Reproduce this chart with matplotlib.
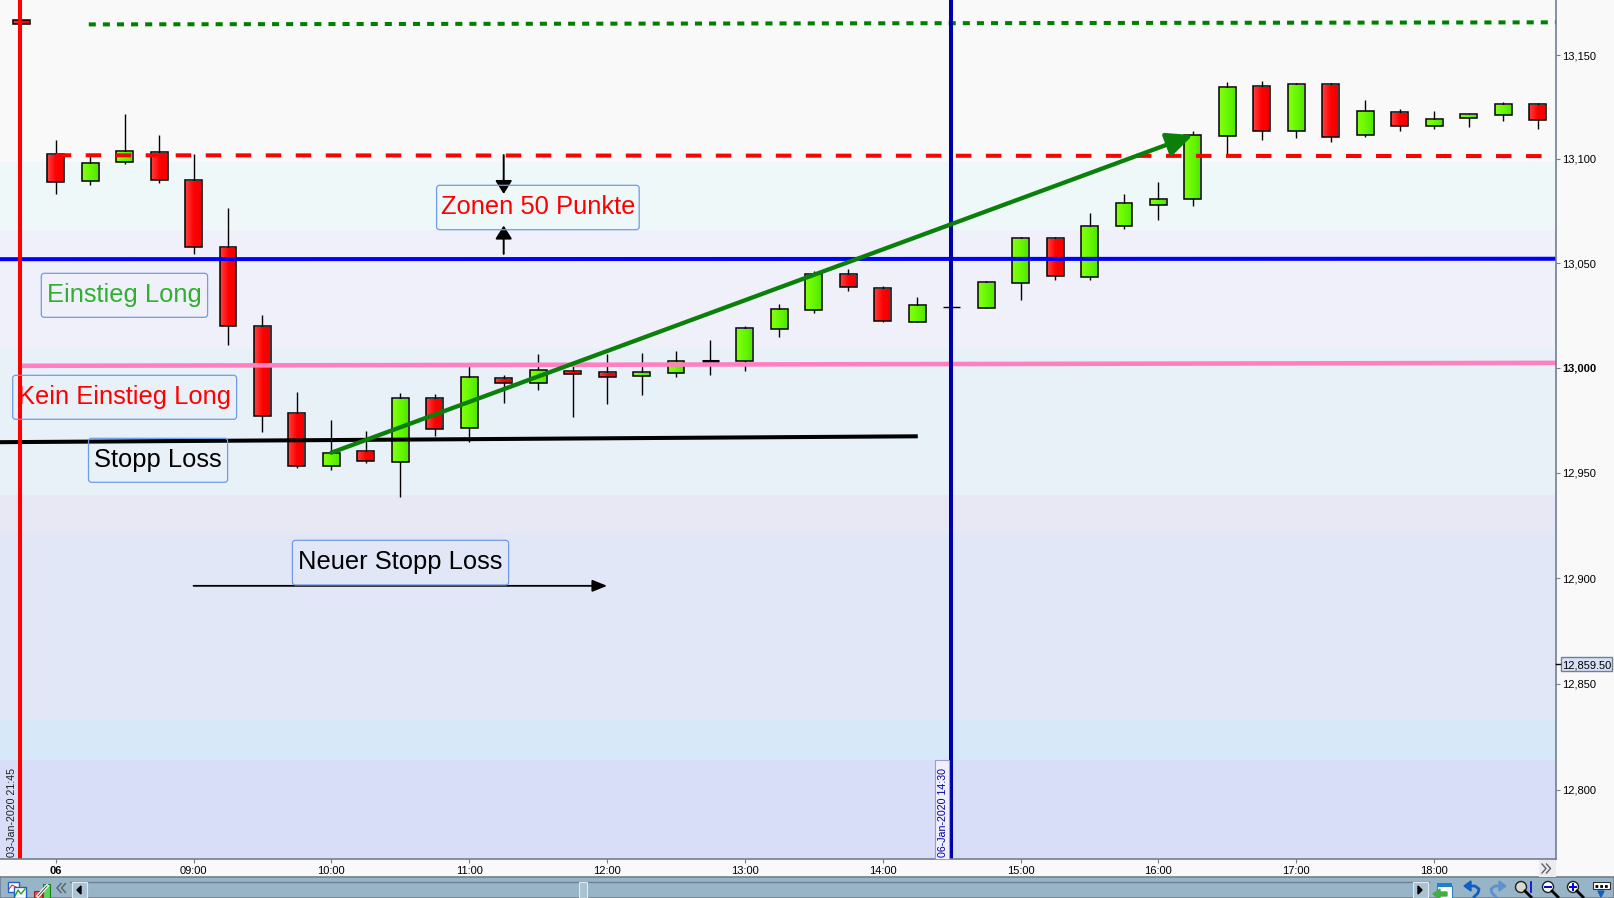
"""DAX 15-Minuten-Kerzen, 06-Jan-2020, mit Einstiegszonen (log. Kursachse)."""
import matplotlib
matplotlib.use("Agg")
import matplotlib.pyplot as plt
import numpy as np
from matplotlib.colors import LinearSegmentedColormap
from matplotlib.patches import FancyArrowPatch, FancyBboxPatch, Rectangle, Circle
from matplotlib.ticker import NullLocator

plt.rcParams["font.family"] = ["Liberation Sans", "DejaVu Sans"]

# --- Kerzen ---
times = ["07:45", "08:00", "08:15", "08:30", "08:45", "09:00", "09:15", "09:30", "09:45",
         "10:00", "10:15", "10:30", "10:45", "11:00", "11:15", "11:30", "11:45",
         "12:00", "12:15", "12:30", "12:45", "13:00", "13:15", "13:30", "13:45",
         "14:00", "14:15", "14:30", "14:45", "15:00", "15:15", "15:30", "15:45",
         "16:00", "16:15", "16:30", "16:45", "17:00", "17:15", "17:30", "17:45",
         "18:00", "18:15", "18:30", "18:45"]
opens = [13166.9, 13102.2, 13089.6, 13098.7, 13103.2, 13089.8, 13057.6, 13019.7, 12978.2,
         12953.4, 12960.2, 12955.2, 12985.4, 12971.4, 12995.1, 12992.5, 12998.2,
         12997.8, 12996.2, 12997.6, 13003.3, 13003.4, 13018.6, 13027.7, 13044.8,
         13038, 13021.9, 13028.9, 13028.7, 13040.7, 13062, 13043.5, 13068,
         13078.1, 13080.6, 13111.2, 13135, 13113.4, 13135.9, 13111.4, 13122.5,
         13116, 13119.8, 13121.3, 13126.3]
closes = [13164.9, 13089.1, 13098, 13103.7, 13090.1, 13057.9, 13020, 12977.1, 12953.4,
          12959.2, 12955.7, 12985.4, 12971, 12995.5, 12992.8, 12998.9, 12997.2,
          12995.7, 12997.8, 13003.1, 13003.3, 13018.8, 13027.9, 13044.8, 13038.8,
          13022.4, 13029.8, 13028.9, 13040.9, 13062, 13044, 13067.8, 13078.7,
          13080.6, 13111.4, 13134.5, 13113.4, 13135.9, 13110.7, 13123, 13116,
          13119.1, 13121.6, 13126.3, 13118.9]
highs = [13166.9, 13109.1, 13102, 13121.7, 13111.5, 13102.4, 13076.4, 13025.2, 12988.2,
         12975.1, 12969.9, 12987.8, 12987.5, 13002.2, 12996.5, 13006.6, 13002.3,
         13006.6, 13007.1, 13008, 13013.2, 13019.7, 13030.4, 13046.2, 13047.2,
         13039.1, 13033.8, 13028.9, 13041.5, 13062.6, 13062.6, 13074, 13083.2,
         13088.9, 13113.4, 13137, 13137.5, 13136.4, 13136.4, 13128.3, 13123.9,
         13123, 13121.6, 13127.4, 13126.9]
lows = [13164.9, 13083.3, 13087.5, 13097.6, 13088.6, 13054.4, 13011, 12969.5, 12952.4,
        12951.3, 12954.8, 12938.6, 12967.6, 12964.8, 12983.2, 12989.2, 12976.7,
        12982.8, 12987.2, 12995.7, 12996.5, 12998.3, 13014.7, 13026.2, 13036.7,
        13021.8, 13021.9, 13028.9, 13028.7, 13032.4, 13042, 13042, 13066.4,
        13070.7, 13077.6, 13102, 13109.1, 13110.1, 13108.3, 13110.7, 13113.6,
        13114.5, 13115.6, 13118.2, 13114.5]

# --- Hintergrundzonen (von oben nach unten) ---
band_edges = [13180, 13098.4, 13065.7, 13009.3, 12939.2, 12921.3, 12832.7, 12813.9, 12760]
band_colors = ["#f9f9f9", "#eff8f8", "#f0f0fa", "#e8f0f8", "#e8e8f5", "#e1e7f6", "#d7e8f8", "#d8def8"]

yticks = [13150, 13100, 13050, 13000, 12950, 12900, 12850, 12800]
xtick_hours = [8, 9, 10, 11, 12, 13, 14, 15, 16, 17, 18]
xtick_labels = ["06", "09:00", "10:00", "11:00", "12:00", "13:00", "14:00", "15:00", "16:00", "17:00", "18:00"]

# Linien: (Zeit in Stunden, Kurs)
green_t, green_p = [8.24, 18.884], [13164.9, 13165.9]
red_t, red_p = [8.0, 18.884], [13101.8, 13101.4]
blue_t, blue_p = [7.596, 18.884], [13051.9, 13052.1]
pink_t, pink_p = [7.75, 18.884], [13000.9, 13002.3]
black_t, black_p = [7.596, 14.254], [12964.5, 12967.3]
trend_t, trend_p = [10.0, 16.25], [12959.5, 13111.5]
stop_t, stop_p = [9.0, 12.0], [12896.3, 12896.3]
zone_t = 11.25
zone_down = [13101.9, 13083.2]
zone_up = [13054.4, 13068]
left_vline, session_vline = 7.743, 14.495
last_price = 12859.5

GREY = "#708090"
BG = "#f9f9f9"
XLIM = (7.596, 18.884)
YLIM = (12767.6, 13176.7)


def hours(s):
    h, m = s.split(":")
    return int(h) + int(m) / 60


fig = plt.figure(figsize=(16.14, 8.98), dpi=100, facecolor=BG)
ax = fig.add_axes([0, 39 / 898, 1556 / 1614, 859 / 898], facecolor=BG)
ax.set_yscale("log")
ax.set_xlim(*XLIM)
ax.set_ylim(*YLIM)

for i, c in enumerate(band_colors):
    ax.axhspan(band_edges[i + 1], band_edges[i], color=c, lw=0, zorder=0)

# --- Kerzen zeichnen ---
reds = LinearSegmentedColormap.from_list("r", ["#ff3c3c", "#ff0000", "#ee0000"])
greens = LinearSegmentedColormap.from_list("g", ["#84ff10", "#66f800", "#50e400"])
grad = np.linspace(0, 1, 32).reshape(1, -1)
w = 0.0615
for t, o, c, h, l in zip(times, opens, closes, highs, lows):
    x = hours(t)
    ax.plot([x, x], [l, h], color="black", lw=1.0, zorder=2, solid_capstyle="butt")
    top, bot = max(o, c), min(o, c)
    if top == bot:
        ax.plot([x - w, x + w], [top, top], color="black", lw=1.0 if t != "12:45" else 2.2,
                zorder=3, solid_capstyle="butt")
        continue
    ax.imshow(grad, cmap=greens if c > o else reds, aspect="auto",
              extent=[x - w, x + w, bot, top], zorder=3, interpolation="bilinear")
    ax.add_patch(Rectangle((x - w, bot), 2 * w, top - bot, fill=False, ec="black", lw=1.1, zorder=3.1))
ax.set_xlim(*XLIM)
ax.set_ylim(*YLIM)

# --- Linien ---
ax.plot(green_t, green_p, color="#008000", lw=2.9, ls=(0, (1.75, 1.75)), zorder=4, dash_capstyle="butt")
ax.plot(red_t, red_p, color="#ff0000", lw=2.9, ls=(0, (3.85, 3.6)), zorder=4, dash_capstyle="butt")
ax.plot(blue_t, blue_p, color="#0000ff", lw=2.9, zorder=4, solid_capstyle="butt")
ax.plot(pink_t, pink_p, color="#ff80c0", lw=3.3, zorder=4, solid_capstyle="butt")
ax.plot(black_t, black_p, color="black", lw=2.9, zorder=4, solid_capstyle="butt")
ax.axvline(left_vline, color="#ff0000", lw=2.9, zorder=5)
ax.axvline(session_vline, color="#0000aa", lw=2.9, zorder=5)

ax.add_patch(FancyArrowPatch((trend_t[0], trend_p[0]), (trend_t[1], trend_p[1]),
                             arrowstyle="-|>,head_length=1.2,head_width=0.55", mutation_scale=13,
                             color="#0a800a", lw=3.1, shrinkA=0, shrinkB=0, zorder=6))
ax.add_patch(FancyArrowPatch((stop_t[0], stop_p[0]), (stop_t[1], stop_p[1]),
                             arrowstyle="-|>,head_length=0.74,head_width=0.3", mutation_scale=12,
                             color="black", lw=1.3, shrinkA=0, shrinkB=0, zorder=6))
for pair in (zone_down, zone_up):
    ax.add_patch(FancyArrowPatch((zone_t, pair[0]), (zone_t, pair[1]),
                                 arrowstyle="-|>,head_length=0.62,head_width=0.39", mutation_scale=13,
                                 color="black", lw=1.4, shrinkA=0, shrinkB=0, zorder=8))

# --- Achsen ---
for s in ("top", "left"):
    ax.spines[s].set_visible(False)
for s in ("right", "bottom"):
    ax.spines[s].set_color(GREY)
    ax.spines[s].set_linewidth(1.2)
    ax.spines[s].set_zorder(7)
ax.yaxis.tick_right()
ax.yaxis.set_minor_locator(NullLocator())
ax.set_yticks(yticks)
ax.set_yticklabels([f"{v:,}" for v in yticks], fontsize=8)
ax.get_yticklabels()[yticks.index(13000)].set_fontweight("bold")
ax.tick_params(axis="y", length=3.2, width=0.8, color=GREY, pad=1.5)
ax.set_xticks(xtick_hours)
ax.set_xticklabels(xtick_labels, fontsize=8)
ax.get_xticklabels()[0].set_fontweight("bold")
ax.tick_params(axis="x", length=3.2, width=0.8, color=GREY, pad=2)

# --- Ebene in Pixeln: Textboxen und Bedienleiste ---
ov = fig.add_axes([0, 0, 1, 1], facecolor="none")
ov.set_xlim(0, 1614)
ov.set_ylim(898, 0)
ov.axis("off")


def label(x0, y0, x1, y1, txt, col):
    ov.add_patch(FancyBboxPatch((x0 + 2, y0 + 2), x1 - x0 - 4, y1 - y0 - 4,
                                boxstyle="round,pad=2,rounding_size=3", fc="none",
                                ec="#6f9bea", lw=0.9, zorder=3))
    ov.text((x0 + x1) / 2, y0 + 28.5, txt, color=col, fontsize=18.4, ha="center",
            va="baseline", zorder=4)


def chevrons(cx, cy, d):
    for off in (-3, 1.5):
        ov.plot([cx + off - 2 * d, cx + off + 2 * d, cx + off - 2 * d], [cy - 4.5, cy, cy + 4.5],
                color="#606060", lw=1.0, zorder=3)


label(436.6, 185.3, 639.2, 229.7, "Zonen 50 Punkte", "#ff0000")
label(41.3, 273.3, 207.6, 317.3, "Einstieg Long", "#30b030")
label(12.7, 375.3, 236.6, 419.3, "Kein Einstieg Long", "#ff0000")
label(88.5, 438.3, 227.6, 482.3, "Stopp Loss", "black")
label(292.4, 540.3, 508.6, 585, "Neuer Stopp Loss", "black")

# Datumsmarken an den senkrechten Linien
ov.text(12.5, 857, "03-Jan-2020 21:45", rotation=90, fontsize=7.7, color="#202020",
        ha="center", va="bottom")
ov.add_patch(Rectangle((934.5, 760), 14.5, 99, fc="#f0f0fa", ec="#9a9ad8", lw=0.8, zorder=2))
ov.text(942.7, 857, "06-Jan-2020 14:30", rotation=90, fontsize=7.7, color="#0000aa",
        ha="center", va="bottom", zorder=3)

# aktueller Kurs
ov.add_patch(Rectangle((1561, 657), 51, 14, fc="#d8e0f8", ec=GREY, lw=1.0))
ov.text(1586.5, 664.3, f"{last_price:,.2f}", fontsize=8, ha="center", va="center_baseline")
ov.plot([1556, 1560], [664.3, 664.3], color="black", lw=1.0)

# Bedienleiste unten
ov.add_patch(Rectangle((0, 877), 1614, 21, fc="#97b5c7", ec=GREY, lw=1.2, zorder=1))
ov.plot([70, 1429], [882, 882], color=GREY, lw=1.0, zorder=2)
ov.add_patch(Rectangle((1539, 860), 17, 17, fc="#ecebf2", ec="none"))
chevrons(1547, 868.5, 1)
chevrons(62, 888, -1)
for bx, mark in ((71.5, "<"), (1412.5, ">")):
    ov.add_patch(Rectangle((bx, 882), 15, 16, fc="#a9c3d2", ec="#dfe9ef", lw=0.8, zorder=2))
    cx = bx + 7.5
    d = -1 if mark == "<" else 1
    ov.fill([cx - 2 * d, cx + 2 * d, cx - 2 * d], [886, 890, 894], color="black", zorder=3)
ov.add_patch(Rectangle((579, 882), 8, 16, fc="#a9c3d2", ec="#dfe9ef", lw=0.8, zorder=2))

# Symbole links
ov.add_patch(Rectangle((8, 882), 11, 10, fc="white", ec="#2060c0", lw=1.0, zorder=3))
ov.add_patch(Rectangle((14, 887), 12, 11, fc="white", ec="#2060c0", lw=1.0, zorder=3))
ov.plot([15, 18, 21, 25], [896, 890, 894, 889], color="#20a020", lw=1.0, zorder=4)
ov.plot([9, 12, 16], [889, 885, 887], color="#d03030", lw=0.8, zorder=4)
ov.add_patch(Rectangle((34, 891), 8, 7, fc="#e05050", ec="#a02020", lw=0.8, zorder=3))
ov.add_patch(Rectangle((43, 884), 7, 14, fc="#60d060", ec="#108010", lw=0.8, zorder=3))
ov.plot([38, 47], [896, 886], color="white", lw=2.4, zorder=4)
ov.plot([38, 47], [896, 886], color="#303030", lw=0.6, zorder=5)

# Symbole rechts
ov.add_patch(Rectangle((1437, 886), 15, 12, fc="white", ec="#3080c0", lw=0.8, zorder=3))
ov.add_patch(Rectangle((1437, 883), 15, 4, fc="#2080d0", ec="none", zorder=3))
ov.fill([1433, 1440, 1440, 1447, 1447, 1440, 1440], [894, 889, 892, 892, 896, 896, 899],
        color="#40b040", zorder=4)
ov.plot([1469, 1475, 1479, 1478, 1474], [886, 886, 889, 893, 897], color="#1060c0", lw=2.0, zorder=3)
ov.fill([1464, 1471, 1471], [886, 881, 891], color="#1060c0", zorder=3)
ov.plot([1501, 1495, 1491, 1492, 1496], [886, 886, 889, 893, 897], color="#6090d0", lw=2.0, zorder=3)
ov.fill([1506, 1499, 1499], [886, 881, 891], color="#6090d0", zorder=3)
for cx, sign, fc in ((1521, "", "#d8d8d0"), (1548, "-", "white"), (1573, "+", "white")):
    ov.add_patch(Circle((cx, 887), 5.5, fc=fc, ec="#202020", lw=1.0, zorder=3))
    ov.plot([cx + 4, cx + 10], [891, 897], color="black", lw=2.0, zorder=3)
    if sign:
        ov.plot([cx - 3, cx + 3], [887, 887], color="#0000e0", lw=1.4, zorder=4)
    if sign == "+":
        ov.plot([cx, cx], [884, 890], color="#0000e0", lw=1.4, zorder=4)
ov.plot([1531, 1531], [882, 892], color="#0000e0", lw=1.2, zorder=3)
ov.add_patch(Rectangle((1593, 882), 17, 7, fc="white", ec="#303030", lw=0.8, zorder=3))
ov.plot([1595, 1608], [885.5, 885.5], color="black", lw=2.0, ls=(0, (1, 0.7)), zorder=4)
ov.fill([1598, 1604, 1601], [891, 891, 897], color="#1060c0", zorder=3)

fig.savefig("out.png", dpi=100, facecolor=fig.get_facecolor())
